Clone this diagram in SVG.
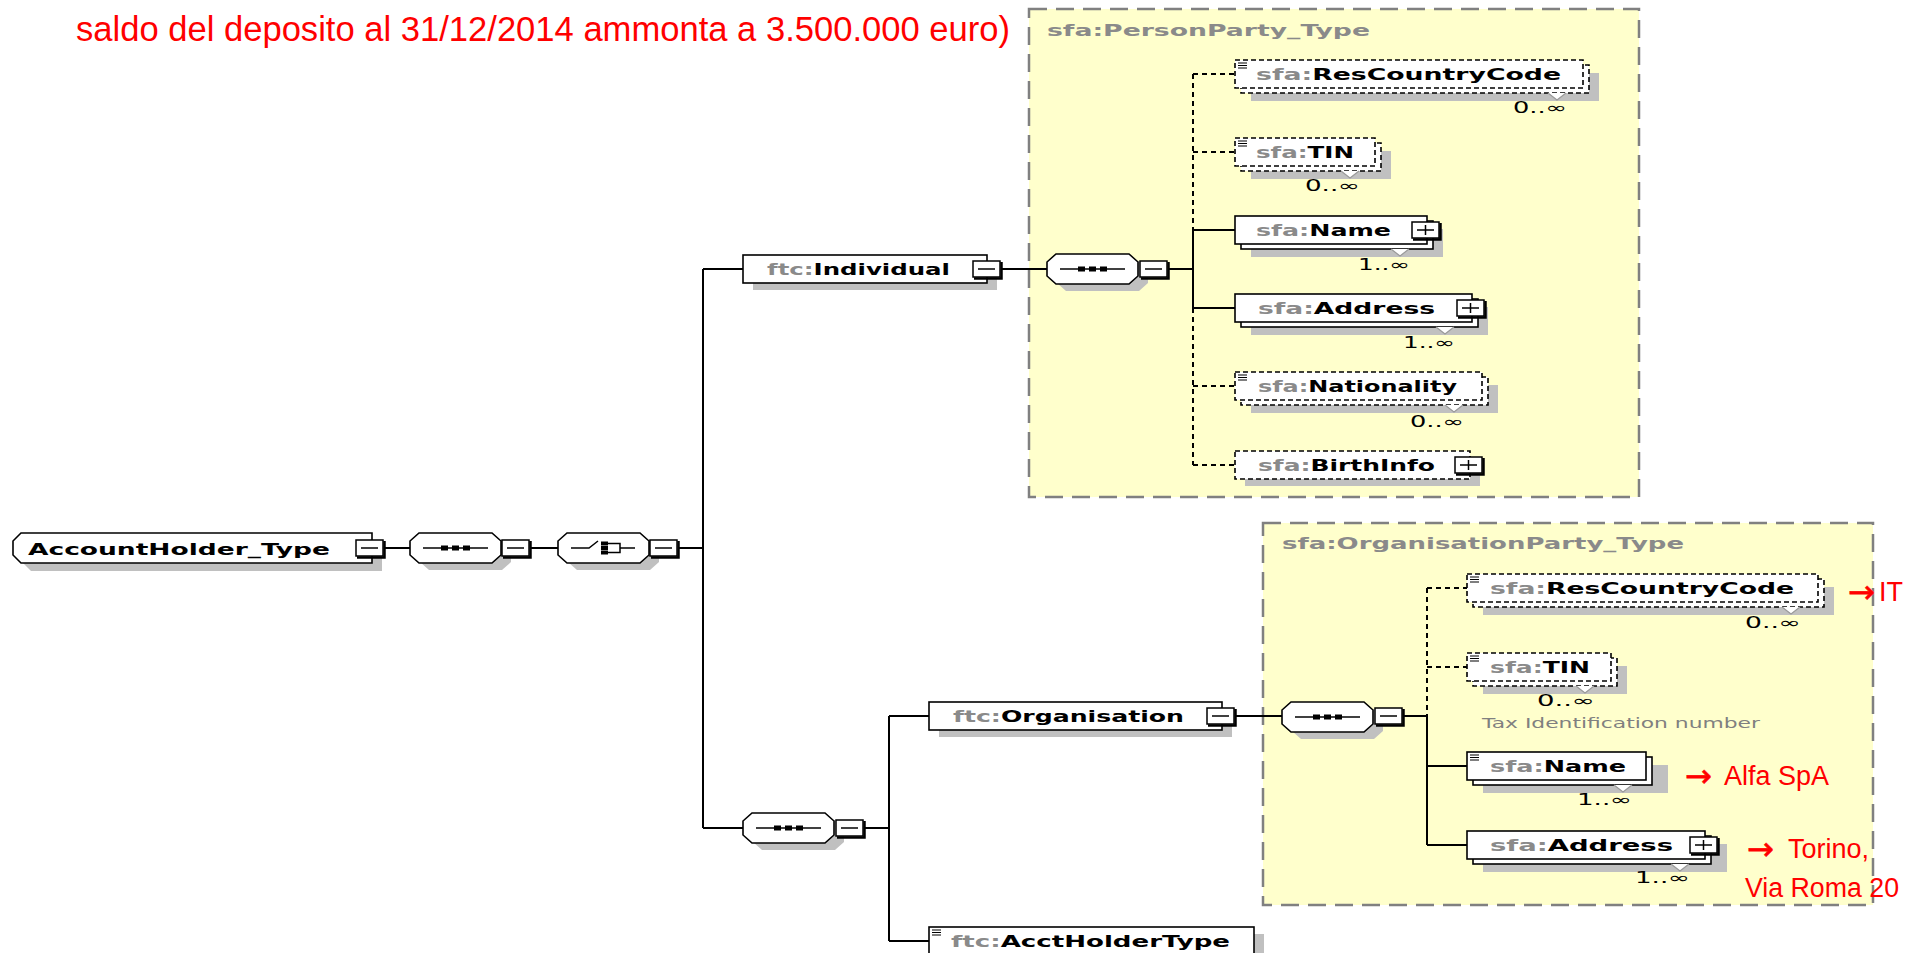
<svg xmlns="http://www.w3.org/2000/svg" xmlns:xlink="http://www.w3.org/1999/xlink" width="1917" height="953" viewBox="0 0 1917 953">
  <style>
    .conn { stroke: #000; stroke-width: 2; fill: none; }
    .opt { stroke-dasharray: 5 4; }
    .shadow { fill: #c0c0c0; stroke: none; }
    .box { fill: #fff; stroke: #000; stroke-width: 1.6; }
    .dash { stroke-dasharray: 5 3; }
    .grp { fill: #ffffcc; stroke: #808080; stroke-width: 2.5; stroke-dasharray: 18 9; }
    .name { font-family: "DejaVu Sans", Verdana, sans-serif; font-weight: bold; font-size: 16px; fill: #000; }
    .pfx { fill: #8a8a8a; }
    .glabel { font-family: "DejaVu Sans", Verdana, sans-serif; font-weight: bold; font-size: 16px; fill: #8a8a8a; }
    .occ { font-family: "DejaVu Sans", Verdana, sans-serif; font-size: 15px; fill: #000; }
    .doc { font-family: "DejaVu Sans", Verdana, sans-serif; font-size: 14px; fill: #808080; }
    .red { font-family: "Liberation Sans", Arial, sans-serif; fill: #ff0000; }
    .arrow { font-family: "DejaVu Sans", sans-serif; font-size: 32px; fill: #ff0000; stroke: #ff0000; stroke-width: 0.6; }
    .notch { fill: #fff; stroke: #9a9a9a; stroke-width: 1.2; }
  </style>
  <defs>
    <!-- expand / collapse buttons -->
    <g id="btn-minus">
      <rect x="0" y="0" width="27" height="16" fill="#fff" stroke="#000" stroke-width="1.5"/>
      <path d="M28.5,1 V17.5 H1" stroke="#000" stroke-width="2.5" fill="none"/>
      <path d="M5,8 H22" stroke="#000" stroke-width="1.5"/>
    </g>
    <g id="btn-plus">
      <rect x="0" y="0" width="27" height="16" fill="#fff" stroke="#000" stroke-width="1.5"/>
      <path d="M28.5,1 V17.5 H1" stroke="#000" stroke-width="2.5" fill="none"/>
      <path d="M5,8 H22 M13.5,3 V13" stroke="#000" stroke-width="1.5"/>
    </g>
    <!-- compositor octagon -->
    <polygon id="oct" points="9,0 82,0 91,8 91,22 82,30 9,30 0,22 0,8"/>
    <g id="seq">
      <use xlink:href="#oct" x="10" y="7" class="shadow"/>
      <use xlink:href="#oct" class="box"/>
      <path d="M13,15 H78" stroke="#000" stroke-width="1.5"/>
      <rect x="31" y="12.5" width="7" height="5" fill="#000"/>
      <rect x="42" y="12.5" width="7" height="5" fill="#000"/>
      <rect x="53" y="12.5" width="7" height="5" fill="#000"/>
    </g>
    <g id="choice">
      <use xlink:href="#oct" x="10" y="7" class="shadow"/>
      <use xlink:href="#oct" class="box"/>
      <path d="M13,15 H31 L40,8" stroke="#000" stroke-width="1.5" fill="none"/>
      <rect x="43" y="8.5" width="7" height="4" fill="#000"/>
      <rect x="43" y="13" width="7" height="4" fill="#000"/>
      <rect x="43" y="17.5" width="7" height="4" fill="#000"/>
      <path d="M50,10.5 H62 V19.5 H50 M62,15 H77" stroke="#000" stroke-width="1.5" fill="none"/>
    </g>
    <!-- simple-content marker -->
    <path id="lines" d="M3,3 H12 M3,5.5 H12 M3,8 H12" stroke="#000" stroke-width="1.1"/>
  </defs>

  <rect width="1917" height="953" fill="#fff"/>

  <text class="red" x="76" y="41" font-size="35.5" textLength="934" lengthAdjust="spacingAndGlyphs">saldo del deposito al 31/12/2014 ammonta a 3.500.000 euro)</text>

  <!-- type containers -->
  <g id="personparty-type">
    <rect class="grp" x="1029" y="9" width="610" height="488"/>
    <text class="glabel" x="1047" y="36" textLength="323" lengthAdjust="spacingAndGlyphs">sfa:PersonParty_Type</text>
  </g>
  <g id="organisationparty-type">
    <rect class="grp" x="1263" y="523" width="610" height="382"/>
    <text class="glabel" x="1282" y="549" textLength="402" lengthAdjust="spacingAndGlyphs">sfa:OrganisationParty_Type</text>
  </g>

  <!-- connectors -->
  <g id="connectors">
    <path class="conn" d="M385,548 H410 M531,548 H558 M679,548 H703"/>
    <path class="conn" d="M703,269 V828 M703,269 H743 M703,828 H743"/>
    <path class="conn" d="M1001,269 H1047 M1168,269 H1193"/>
    <path class="conn opt" d="M1193,74 V230 M1193,308 V465"/>
    <path class="conn" d="M1193,230 V308"/>
    <path class="conn opt" d="M1193,74 H1235 M1193,152 H1235 M1193,386 H1235 M1193,465 H1235"/>
    <path class="conn" d="M1193,230 H1235 M1193,308 H1235"/>
    <path class="conn" d="M864,828 H889 M889,716 V941 M889,716 H929 M889,941 H929"/>
    <path class="conn" d="M1236,716 H1282 M1403,716 H1427"/>
    <path class="conn opt" d="M1427,588 V716 M1427,588 H1467 M1427,667 H1467"/>
    <path class="conn" d="M1427,716 V845 M1427,766 H1467 M1427,845 H1467"/>
  </g>

  <!-- root type -->
  <g id="accountholder-type">
    <polygon class="shadow" points="31,540 382,540 382,571 31,571 23,563 23,548"/>
    <polygon class="box" points="21,533 372,533 372,563 21,563 13,555 13,541"/>
    <text class="name" x="28" y="555" font-size="17" textLength="302" lengthAdjust="spacingAndGlyphs">AccountHolder_Type</text>
    <use xlink:href="#btn-minus" x="356" y="540"/>
  </g>
  <g id="root-sequence">
    <use xlink:href="#seq" x="410" y="533"/>
    <use xlink:href="#btn-minus" x="502" y="540"/>
  </g>
  <g id="root-choice">
    <use xlink:href="#choice" x="558" y="533"/>
    <use xlink:href="#btn-minus" x="650" y="540"/>
  </g>

  <!-- Individual branch -->
  <g id="individual">
    <rect class="shadow" x="753" y="262" width="244" height="28"/>
    <rect class="box" x="743" y="255" width="244" height="28"/>
    <text class="name" x="767" y="275" textLength="183" lengthAdjust="spacingAndGlyphs"><tspan class="pfx">ftc:</tspan>Individual</text>
    <use xlink:href="#btn-minus" x="973" y="261"/>
  </g>
  <g id="person-sequence">
    <use xlink:href="#seq" x="1047" y="254"/>
    <use xlink:href="#btn-minus" x="1140" y="261"/>
  </g>

  <g id="p-rescountrycode">
    <rect class="shadow" x="1251" y="73" width="348" height="28"/>
    <rect class="box dash" x="1241" y="65" width="348" height="28"/>
    <rect class="box dash" x="1235" y="60" width="348" height="28"/>
    <use xlink:href="#lines" x="1235" y="60"/>
    <text class="name" x="1256" y="80" textLength="305" lengthAdjust="spacingAndGlyphs"><tspan class="pfx">sfa:</tspan>ResCountryCode</text>
    <polyline class="notch" points="1548,93 1557,100 1566,93"/>
    <text class="occ" x="1513" y="113" textLength="54" lengthAdjust="spacingAndGlyphs">0..∞</text>
  </g>
  <g id="p-tin">
    <rect class="shadow" x="1251" y="151" width="140" height="28"/>
    <rect class="box dash" x="1241" y="143" width="140" height="28"/>
    <rect class="box dash" x="1235" y="138" width="140" height="28"/>
    <use xlink:href="#lines" x="1235" y="138"/>
    <text class="name" x="1256" y="158" textLength="98" lengthAdjust="spacingAndGlyphs"><tspan class="pfx">sfa:</tspan>TIN</text>
    <polyline class="notch" points="1341,171 1350,178 1359,171"/>
    <text class="occ" x="1305" y="191" textLength="55" lengthAdjust="spacingAndGlyphs">0..∞</text>
  </g>
  <g id="p-name">
    <rect class="shadow" x="1251" y="229" width="192" height="28"/>
    <rect class="box" x="1241" y="221" width="192" height="28"/>
    <rect class="box" x="1235" y="216" width="192" height="28"/>
    <text class="name" x="1256" y="236" textLength="135" lengthAdjust="spacingAndGlyphs"><tspan class="pfx">sfa:</tspan>Name</text>
    <use xlink:href="#btn-plus" x="1412" y="222"/>
    <polyline class="notch" points="1391,249 1400,256 1409,249"/>
    <text class="occ" x="1358" y="270" textLength="52" lengthAdjust="spacingAndGlyphs">1..∞</text>
  </g>
  <g id="p-address">
    <rect class="shadow" x="1251" y="307" width="237" height="28"/>
    <rect class="box" x="1241" y="299" width="237" height="28"/>
    <rect class="box" x="1235" y="294" width="237" height="28"/>
    <text class="name" x="1258" y="314" textLength="177" lengthAdjust="spacingAndGlyphs"><tspan class="pfx">sfa:</tspan>Address</text>
    <use xlink:href="#btn-plus" x="1457" y="300"/>
    <polyline class="notch" points="1436,327 1445,334 1454,327"/>
    <text class="occ" x="1403" y="348" textLength="52" lengthAdjust="spacingAndGlyphs">1..∞</text>
  </g>
  <g id="p-nationality">
    <rect class="shadow" x="1251" y="385" width="247" height="28"/>
    <rect class="box dash" x="1241" y="377" width="247" height="28"/>
    <rect class="box dash" x="1235" y="372" width="247" height="28"/>
    <use xlink:href="#lines" x="1235" y="372"/>
    <text class="name" x="1258" y="392" textLength="199" lengthAdjust="spacingAndGlyphs"><tspan class="pfx">sfa:</tspan>Nationality</text>
    <polyline class="notch" points="1445,405 1454,412 1463,405"/>
    <text class="occ" x="1410" y="427" textLength="54" lengthAdjust="spacingAndGlyphs">0..∞</text>
  </g>
  <g id="p-birthinfo">
    <rect class="shadow" x="1245" y="458" width="235" height="28"/>
    <rect class="box dash" x="1235" y="451" width="235" height="28"/>
    <text class="name" x="1258" y="471" textLength="177" lengthAdjust="spacingAndGlyphs"><tspan class="pfx">sfa:</tspan>BirthInfo</text>
    <use xlink:href="#btn-plus" x="1455" y="457"/>
  </g>

  <!-- Organisation branch -->
  <g id="org-choice-sequence">
    <use xlink:href="#seq" x="743" y="813"/>
    <use xlink:href="#btn-minus" x="836" y="820"/>
  </g>
  <g id="organisation">
    <rect class="shadow" x="939" y="709" width="293" height="28"/>
    <rect class="box" x="929" y="702" width="293" height="28"/>
    <text class="name" x="953" y="722" textLength="231" lengthAdjust="spacingAndGlyphs"><tspan class="pfx">ftc:</tspan>Organisation</text>
    <use xlink:href="#btn-minus" x="1207" y="708"/>
  </g>
  <g id="acctholdertype">
    <rect class="shadow" x="939" y="934" width="325" height="28"/>
    <rect class="box" x="929" y="927" width="325" height="28"/>
    <use xlink:href="#lines" x="929" y="927"/>
    <text class="name" x="951" y="947" textLength="279" lengthAdjust="spacingAndGlyphs"><tspan class="pfx">ftc:</tspan>AcctHolderType</text>
  </g>
  <g id="organisation-sequence">
    <use xlink:href="#seq" x="1282" y="702"/>
    <use xlink:href="#btn-minus" x="1375" y="708"/>
  </g>

  <g id="o-rescountrycode">
    <rect class="shadow" x="1483" y="587" width="351" height="28"/>
    <rect class="box dash" x="1473" y="579" width="351" height="28"/>
    <rect class="box dash" x="1467" y="574" width="351" height="28"/>
    <use xlink:href="#lines" x="1467" y="574"/>
    <text class="name" x="1490" y="594" textLength="304" lengthAdjust="spacingAndGlyphs"><tspan class="pfx">sfa:</tspan>ResCountryCode</text>
    <polyline class="notch" points="1782,607 1791,614 1800,607"/>
    <text class="occ" x="1745" y="628" textLength="56" lengthAdjust="spacingAndGlyphs">0..∞</text>
  </g>
  <g id="o-tin">
    <rect class="shadow" x="1483" y="666" width="144" height="28"/>
    <rect class="box dash" x="1473" y="658" width="144" height="28"/>
    <rect class="box dash" x="1467" y="653" width="144" height="28"/>
    <use xlink:href="#lines" x="1467" y="653"/>
    <text class="name" x="1490" y="673" textLength="100" lengthAdjust="spacingAndGlyphs"><tspan class="pfx">sfa:</tspan>TIN</text>
    <polyline class="notch" points="1576,686 1585,693 1594,686"/>
    <text class="occ" x="1537" y="706" textLength="58" lengthAdjust="spacingAndGlyphs">0..∞</text>
    <text class="doc" x="1482" y="728" textLength="278" lengthAdjust="spacingAndGlyphs">Tax Identification number</text>
  </g>
  <g id="o-name">
    <rect class="shadow" x="1483" y="765" width="185" height="28"/>
    <rect class="box" x="1473" y="757" width="179" height="28"/>
    <rect class="box" x="1467" y="752" width="179" height="28"/>
    <use xlink:href="#lines" x="1467" y="752"/>
    <text class="name" x="1490" y="772" textLength="136" lengthAdjust="spacingAndGlyphs"><tspan class="pfx">sfa:</tspan>Name</text>
    <polyline class="notch" points="1614,785 1623,792 1632,785"/>
    <text class="occ" x="1577" y="805" textLength="55" lengthAdjust="spacingAndGlyphs">1..∞</text>
  </g>
  <g id="o-address">
    <rect class="shadow" x="1483" y="844" width="244" height="28"/>
    <rect class="box" x="1473" y="836" width="238" height="28"/>
    <rect class="box" x="1467" y="831" width="238" height="28"/>
    <text class="name" x="1490" y="851" textLength="183" lengthAdjust="spacingAndGlyphs"><tspan class="pfx">sfa:</tspan>Address</text>
    <use xlink:href="#btn-plus" x="1690" y="837"/>
    <polyline class="notch" points="1671,864 1680,871 1689,864"/>
    <text class="occ" x="1635" y="883" textLength="55" lengthAdjust="spacingAndGlyphs">1..∞</text>
  </g>

  <!-- sample values -->
  <g id="values">
    <text class="arrow" x="1848" y="603" textLength="27" lengthAdjust="spacingAndGlyphs">→</text>
    <text class="red" font-size="27" x="1879" y="601">IT</text>
    <text class="arrow" x="1685" y="787" textLength="27" lengthAdjust="spacingAndGlyphs">→</text>
    <text class="red" font-size="27" x="1724" y="785">Alfa SpA</text>
    <text class="arrow" x="1747" y="860" textLength="27" lengthAdjust="spacingAndGlyphs">→</text>
    <text class="red" font-size="27" x="1788" y="858">Torino,</text>
    <text class="red" font-size="27" x="1745" y="897" textLength="154" lengthAdjust="spacingAndGlyphs">Via Roma 20</text>
  </g>
</svg>
